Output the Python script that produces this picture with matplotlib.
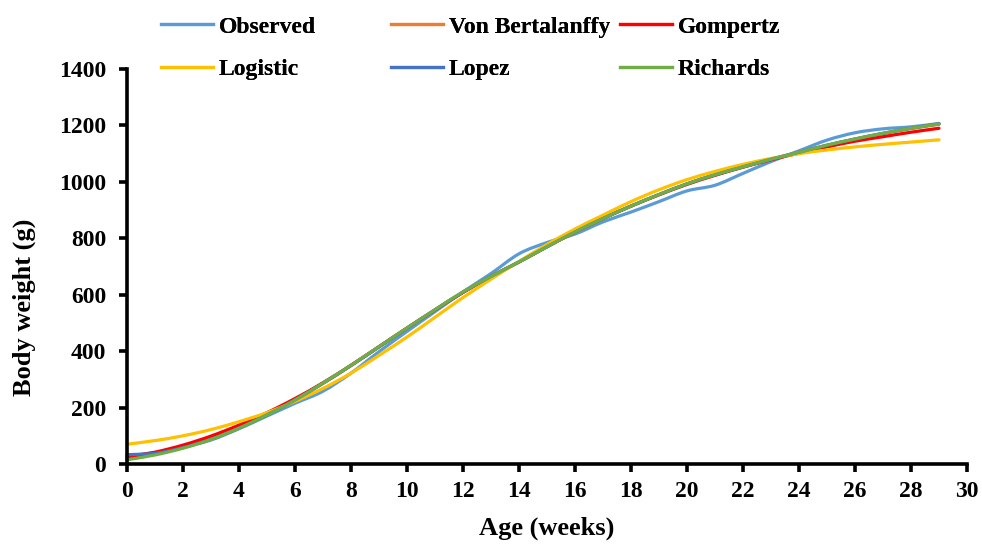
import matplotlib
matplotlib.use("Agg")
import matplotlib.pyplot as plt
from matplotlib.path import Path
from matplotlib.patches import PathPatch
from matplotlib.lines import Line2D
import numpy as np

plt.rcParams['font.family'] = ['Liberation Serif', 'DejaVu Serif']
plt.rcParams['font.weight'] = 'bold'

weeks = list(range(30))
observed = [30, 40, 60, 85, 125, 170, 215, 258, 322, 398, 470, 540, 610, 675, 745, 785,
            815, 858, 893, 930, 968, 988, 1030, 1072, 1110, 1148, 1174, 1188, 1195, 1207]
von_bertalanffy = [20, 36, 60, 90, 130, 176, 228, 286, 349, 415, 481, 546, 609, 665, 716, 770,
                   822, 870, 914, 955, 993, 1025, 1053, 1080, 1105, 1129, 1151, 1171, 1189, 1204]
gompertz = [25, 42, 67, 99, 138, 182, 232, 288, 350, 416, 482, 546, 608, 664, 716, 770,
            822, 870, 914, 954, 991, 1023, 1052, 1078, 1102, 1124, 1144, 1160, 1176, 1190]
logistic = [70, 83, 100, 122, 150, 182, 222, 268, 322, 385, 450, 520, 590, 655, 718, 778,
            833, 882, 930, 972, 1008, 1037, 1062, 1083, 1100, 1113, 1124, 1133, 1141, 1149]
lopez = [33, 38, 58, 88, 127, 174, 227, 286, 349, 415, 481, 546, 609, 665, 716, 770,
         822, 870, 914, 955, 993, 1025, 1053, 1080, 1105, 1130, 1152, 1172, 1190, 1206]
richards = [15, 32, 56, 87, 127, 174, 227, 287, 350, 416, 482, 547, 610, 665, 716, 770,
            822, 870, 914, 955, 993, 1025, 1053, 1080, 1105, 1130, 1152, 1172, 1190, 1205]

series = [
    ("Observed", observed, "#5B9BD5"),
    ("Von Bertalanffy", von_bertalanffy, "#ED7D31"),
    ("Gompertz", gompertz, "#FF0000"),
    ("Logistic", logistic, "#FFC000"),
    ("Lopez", lopez, "#4472C4"),
    ("Richards", richards, "#70AD47"),
]


def smooth_path(xs, ys):
    """Excel-style smoothed line: cubic Bezier segments through the data points."""
    p = np.column_stack([xs, ys]).astype(float)
    n = len(p)
    verts = [p[0]]
    codes = [Path.MOVETO]
    for i in range(n - 1):
        p0 = p[i - 1] if i > 0 else p[i]
        p1 = p[i]
        p2 = p[i + 1]
        p3 = p[i + 2] if i + 2 < n else p[i + 1]
        c1 = p1 + (p2 - p0) / 6.0
        c2 = p2 - (p3 - p1) / 6.0
        verts += [c1, c2, p2]
        codes += [Path.CURVE4] * 3
    return Path(verts, codes)


fig = plt.figure(figsize=(9.82, 5.45), dpi=100)
ax = fig.add_axes([127/982, 1 - 464/545, (967-127)/982, (464-69)/545])

LW = 2.3
handles = {}
for name, vals, col in series:
    patch = PathPatch(smooth_path(weeks, vals), facecolor='none', edgecolor=col,
                      lw=LW, capstyle='round', joinstyle='round', clip_on=False)
    ax.add_patch(patch)
    handles[name] = Line2D([], [], color=col, lw=LW)

ax.set_xlim(0, 30)
ax.set_ylim(0, 1400)
ax.set_xticks(range(0, 31, 2))
ax.set_yticks(range(0, 1401, 200))
for s in ['top', 'right']:
    ax.spines[s].set_visible(False)
for s in ['left', 'bottom']:
    ax.spines[s].set_linewidth(2.6)
ax.tick_params(axis='both', direction='out', width=2.6, length=6, labelsize=17)
ax.tick_params(axis='x', pad=6)
ax.tick_params(axis='y', pad=9)
for lbl in ax.get_xticklabels() + ax.get_yticklabels():
    lbl.set_fontweight('bold')
ax.set_xlabel("Age (weeks)", fontsize=19, fontweight='bold', va='center')
ax.xaxis.set_label_coords(0.5, (464 - 528) / 395)
ax.set_ylabel("Body weight (g)", fontsize=19, fontweight='bold', va='center')
ax.yaxis.set_label_coords((24 - 127) / 840, (464 - 307) / 395)

cols = [["Observed", "Logistic"], ["Von Bertalanffy", "Lopez"], ["Gompertz", "Richards"]]
xs = [161, 391, 620]
for x0, names in zip(xs, cols):
    leg = fig.legend([handles[n] for n in names], names, loc='upper left',
                     bbox_to_anchor=(x0/982, 1 - 16/545), frameon=False,
                     prop={'family': 'Liberation Serif', 'weight': 'bold', 'size': 17},
                     handlelength=2.2, handletextpad=0.25, labelspacing=0.9,
                     borderaxespad=0, borderpad=0)
    fig.add_artist(leg)

fig.savefig("out.png", dpi=100)
